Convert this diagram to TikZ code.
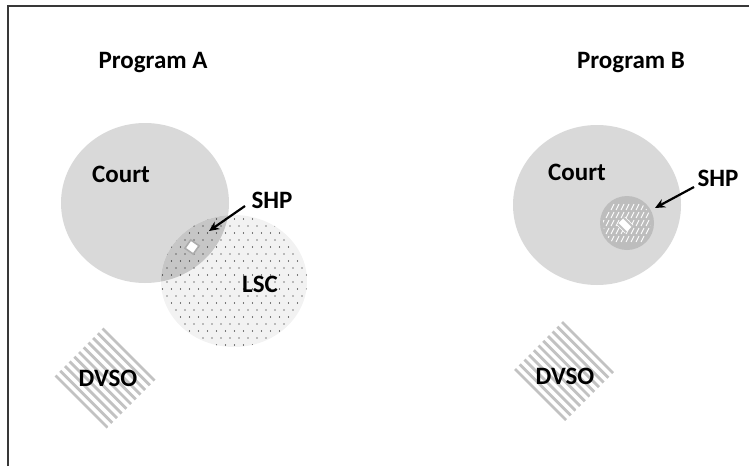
\documentclass[tikz,border=0pt]{standalone}
\usepackage{fontspec}
\setmainfont{Carlito}
\usetikzlibrary{shapes.geometric,arrows.meta}
\definecolor{courtgray}{HTML}{D9D9D9}
\definecolor{overlapgray}{HTML}{C6C6C6}
\definecolor{lscfill}{HTML}{F2F2F2}
\definecolor{stripegray}{HTML}{C2C2C2}
\definecolor{shpgray}{HTML}{BDBDBD}
\definecolor{framegray}{HTML}{383838}
\tikzset{
  lbl/.style={font=\bfseries\fontsize{25}{28}\selectfont, inner sep=0pt, anchor=base},
  stripe/.style={draw=stripegray, line width=2.8pt},
  ptr/.style={-{Stealth[length=10pt,width=9pt]}, line width=2.2pt, black},
  shpicon/.style={diamond, draw=gray!65, line width=1.6pt, fill=white, minimum size=15pt, inner sep=0pt},
}
\begin{document}
\begin{tikzpicture}[x=1pt,y=-1pt]
\useasboundingbox (0,0) rectangle (749,466);
% frame
\draw[line width=2pt, framegray] (8,466) -- (8,6) -- (749,6);

% ---------------- Program A ----------------
\node[lbl] (progA) at (153,68) {Program A};
% court
\fill[courtgray] (145,203) ellipse [x radius=84, y radius=80];
% LSC
\fill[lscfill] (234,281) ellipse [x radius=73, y radius=66];
\begin{scope}
  \clip (234,281) ellipse [x radius=73, y radius=66];
  \fill[overlapgray] (145,203) ellipse [x radius=84, y radius=80];
  \foreach \yy in {212,226,...,352} \foreach \xx in {158,167,...,312} \fill[black] (\xx,\yy) circle [radius=0.7];
  \foreach \yy in {219,233,...,352} \foreach \xx in {162.5,171.5,...,312} \fill[black] (\xx,\yy) circle [radius=0.7];
\end{scope}
\node[lbl] (courtA) at (121,182) {Court};
\node[lbl] (lscA) at (260,292) {LSC};
\node[shpicon, rotate=10] (iconA) at (192,247) {};
\node[lbl] (shpA) at (272,208) {SHP};
\coordinate (arrAs) at (245,206);
\coordinate (arrAe) at (209,231);
\draw[ptr] (arrAs) -- (arrAe);
% DVSO A
\begin{scope}[shift={(105,378)}]
  \fill[white] (-52,0) -- (0,-52) -- (52,0) -- (0,52) -- cycle;
  \begin{scope}
    \clip (-52,0) -- (0,-52) -- (52,0) -- (0,52) -- cycle;
    \foreach \k in {-8,...,8} \draw[stripe] (\k*4.7-60,-\k*4.7-60) -- (\k*4.7+60,-\k*4.7+60);
  \end{scope}
\end{scope}
\node[lbl] (dvsoA) at (108,386) {DVSO};

% ---------------- Program B ----------------
\node[lbl] (progB) at (631,68) {Program B};
\fill[courtgray] (597,205) ellipse [x radius=84, y radius=80];
\fill[shpgray] (627,223) circle [radius=27];
\begin{scope}
  \clip (627,223) circle [radius=24];
  \foreach \yy in {-16,-8,...,16} \foreach \xx in {-26,-21,...,26}
    \draw[white, line width=0.9pt] (627+\xx,223+\yy+3) -- (627+\xx+3,223+\yy-3);
\end{scope}
\node[diamond, fill=white, minimum size=17pt, inner sep=0pt] (iconB) at (625,225) {};
\begin{scope}
  \clip (625,216.5) -- (633.5,225) -- (625,233.5) -- (616.5,225) -- cycle;
  \foreach \k in {-1,1} \draw[stripegray, line width=1.8pt] (625+\k*3-10,225-\k*3-10) -- (625+\k*3+10,225-\k*3+10);
\end{scope}
\node[lbl] (courtB) at (577,180) {Court};
\node[lbl] (shpB) at (718,186) {SHP};
\coordinate (arrBs) at (694,187);
\coordinate (arrBe) at (655,208);
\draw[ptr] (arrBs) -- (arrBe);
% DVSO B
\begin{scope}[shift={(564,371)}]
  \fill[white] (-51,0) -- (0,-51) -- (51,0) -- (0,51) -- cycle;
  \begin{scope}
    \clip (-51,0) -- (0,-51) -- (51,0) -- (0,51) -- cycle;
    \foreach \k in {-8,...,8} \draw[stripe] (\k*4.7-60,-\k*4.7-60) -- (\k*4.7+60,-\k*4.7+60);
  \end{scope}
\end{scope}
\node[lbl] (dvsoB) at (565,384) {DVSO};
\end{tikzpicture}
\end{document}
